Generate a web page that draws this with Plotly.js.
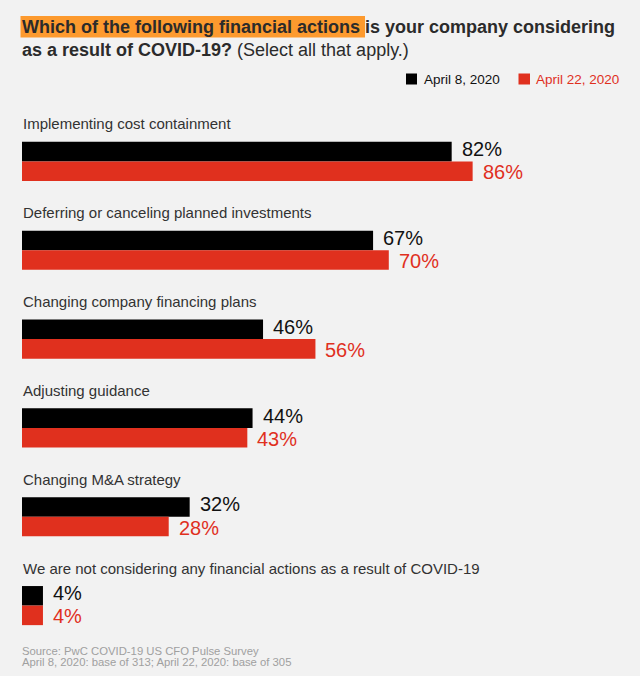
<!DOCTYPE html>
<html>
<head>
<meta charset="utf-8">
<script src="https://cdn.plot.ly/plotly-3.0.1.min.js"></script>
<style>
  html, body { margin: 0; padding: 0; background: #f2f2f2; }
  #chart { width: 640px; height: 676px; }
</style>
</head>
<body>
<div id="chart"></div>
<script>
// ---- data ----
const categories = [
  "Implementing cost containment",
  "Deferring or canceling planned investments",
  "Changing company financing plans",
  "Adjusting guidance",
  "Changing M&A strategy",
  "We are not considering any financial actions as a result of COVID-19"
];
const seriesNames = ["April 8, 2020", "April 22, 2020"];
const april8 = [82, 67, 46, 44, 32, 4];
const april22 = [86, 70, 56, 43, 28, 4];

// ---- style ----
const FONT = "Liberation Sans, Arial, Helvetica, sans-serif";
const BLACK = "#000000";
const RED = "#e0301e";
const BG = "#f2f2f2";
const W = 640, H = 676;
const M = {l: 22, r: 94, t: 117, b: 26, pad: 0};
const PW = W - M.l - M.r, PH = H - M.t - M.b;
const px = v => (v - M.l) / PW;           // pixel x -> paper x
const py = v => 1 - (v - M.t) / PH;        // pixel y -> paper y

const pos = categories.map((c, i) => i);

const traces = [
  {type: "bar", orientation: "h", name: seriesNames[0], y: pos, x: april8,
   marker: {color: BLACK}, hoverinfo: "skip"},
  {type: "bar", orientation: "h", name: seriesNames[1], y: pos, x: april22,
   marker: {color: RED}, hoverinfo: "skip"}
];

const ann = [];
// category labels
categories.forEach((c, i) => {
  ann.push({xref: "x", yref: "y", x: 0, y: i, xanchor: "left", yanchor: "middle",
    yshift: 37.5, xshift: -0.5, showarrow: false, borderpad: 0, text: c,
    font: {family: FONT, size: 15, color: "#333333"}});
});
// value labels
const half = 0.11;
[april8, april22].forEach((arr, s) => {
  arr.forEach((v, i) => {
    ann.push({xref: "x", yref: "y", x: v, y: i + (s === 0 ? -half : half),
      xanchor: "left", yanchor: "middle", xshift: 9, yshift: s === 0 ? 2.5 : -1,
      showarrow: false, borderpad: 0, text: v + "%",
      font: {family: FONT, size: 20, color: s === 0 ? "#111111" : RED}});
  });
});
// title
ann.push({xref: "paper", yref: "paper", x: px(21), y: py(27.3), xanchor: "left", yanchor: "middle",
  showarrow: false, borderpad: 0, align: "left",
  text: "<b>Which of the following financial actions is your company considering</b>",
  font: {family: FONT, size: 18, color: "#2b2b2b"}});
ann.push({xref: "paper", yref: "paper", x: px(21), y: py(49.5), xanchor: "left", yanchor: "middle",
  showarrow: false, borderpad: 0, align: "left",
  text: "<b>as a result of COVID-19?</b> (Select all that apply.)",
  font: {family: FONT, size: 18, color: "#2b2b2b"}});
// legend texts
ann.push({xref: "paper", yref: "paper", x: px(422.5), y: py(79.8), xanchor: "left", yanchor: "middle",
  showarrow: false, borderpad: 0, text: seriesNames[0],
  font: {family: FONT, size: 13.5, color: "#111111"}});
ann.push({xref: "paper", yref: "paper", x: px(535), y: py(79.8), xanchor: "left", yanchor: "middle",
  showarrow: false, borderpad: 0, text: seriesNames[1],
  font: {family: FONT, size: 13.5, color: RED}});
// footnote
ann.push({xref: "paper", yref: "paper", x: px(21), y: py(651), xanchor: "left", yanchor: "middle",
  showarrow: false, borderpad: 0, text: "Source: PwC COVID-19 US CFO Pulse Survey",
  font: {family: FONT, size: 11.3, color: "#a0a0a0"}});
ann.push({xref: "paper", yref: "paper", x: px(21), y: py(661.5), xanchor: "left", yanchor: "middle",
  showarrow: false, borderpad: 0, text: "April 8, 2020: base of 313; April 22, 2020: base of 305",
  font: {family: FONT, size: 11.3, color: "#a0a0a0"}});

const shapes = [
  // title highlight
  {type: "rect", xref: "paper", yref: "paper", x0: px(20.5), x1: px(365), y0: py(37.5), y1: py(16),
   fillcolor: "#fd9a2e", line: {width: 0}, layer: "below"},
  // legend swatches
  {type: "rect", xref: "paper", yref: "paper", x0: px(406), x1: px(417), y0: py(84.5), y1: py(73.5),
   fillcolor: BLACK, line: {width: 0}},
  {type: "rect", xref: "paper", yref: "paper", x0: px(518.5), x1: px(530), y0: py(84.5), y1: py(73.5),
   fillcolor: RED, line: {width: 0}}
];

const layout = {
  width: W, height: H,
  margin: M,
  paper_bgcolor: BG, plot_bgcolor: BG,
  showlegend: false,
  barmode: "group", bargap: 0.56, bargroupgap: 0,
  xaxis: {range: [0, 100], visible: false, fixedrange: true},
  yaxis: {range: [5.5, -0.5], visible: false, fixedrange: true},
  annotations: ann,
  shapes: shapes,
  hovermode: false,
  font: {family: FONT}
};

Plotly.newPlot("chart", traces, layout, {displayModeBar: false, staticPlot: true});
</script>
</body>
</html>
